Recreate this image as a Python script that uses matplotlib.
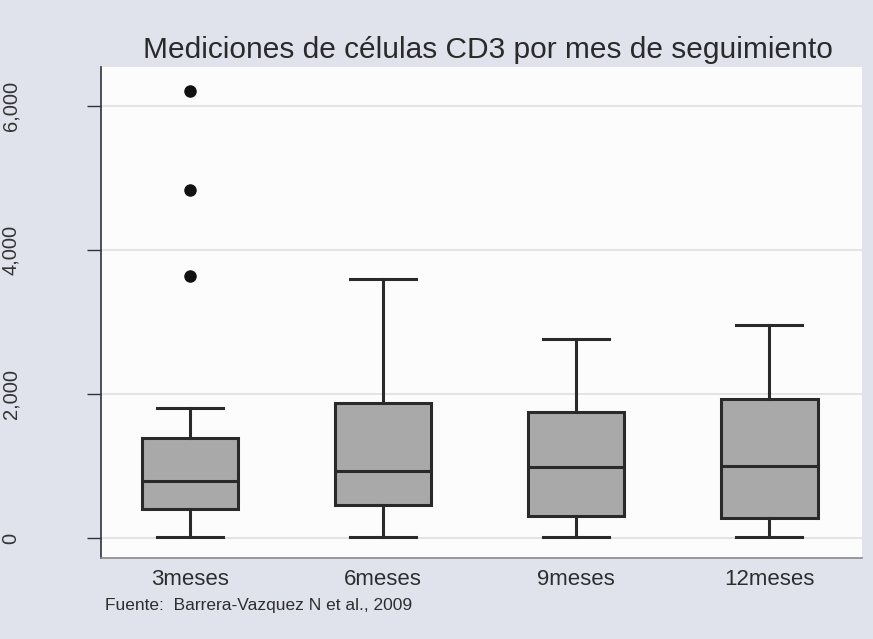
import matplotlib
matplotlib.use("Agg")
import matplotlib.pyplot as plt
from matplotlib.ticker import FuncFormatter

# CD3 cell counts summarised per follow-up month
categories = ["3meses", "6meses", "9meses", "12meses"]
whisker_low = [10, 15, 18, 20]
q1 = [400, 455, 305, 280]
median = [790, 930, 985, 1000]
q3 = [1390, 1875, 1750, 1930]
whisker_high = [1805, 3600, 2765, 2960]
outliers = [[6210, 4830, 3640], [], [], []]

yticks = [0, 2000, 4000, 6000]

plt.rcParams["font.family"] = ["Liberation Sans", "DejaVu Sans"]

fig = plt.figure(figsize=(8.73, 6.39), dpi=100)
fig.patch.set_facecolor("#e0e3ec")
ax = fig.add_axes([0.1157, 0.1268, 0.8717, 0.7683])
ax.set_facecolor("#fcfcfc")

stats = []
for i, name in enumerate(categories):
    stats.append(dict(label=name, whislo=whisker_low[i], q1=q1[i], med=median[i],
                      q3=q3[i], whishi=whisker_high[i], fliers=outliers[i]))

edge = "#2a2a2a"
ax.bxp(stats, positions=range(1, len(categories) + 1), widths=0.5,
       patch_artist=True, showfliers=True,
       boxprops=dict(facecolor="#a9a9a9", edgecolor=edge, linewidth=2.2),
       medianprops=dict(color=edge, linewidth=2.2),
       whiskerprops=dict(color=edge, linewidth=2.2),
       capprops=dict(color=edge, linewidth=2.2),
       capwidths=0.34,
       flierprops=dict(marker="o", markerfacecolor="#111111",
                       markeredgecolor="#111111", markersize=8))

ax.set_xlim(0.54, 4.48)
ax.set_ylim(-278, 6540)
ax.set_yticks(yticks)
ax.yaxis.set_major_formatter(FuncFormatter(lambda v, p: f"{int(v):,}"))
ax.yaxis.grid(True, color="#dedede", linewidth=1.2)
ax.set_axisbelow(True)

for lbl in ax.get_yticklabels():
    lbl.set_rotation(90)
    lbl.set_va("center")
ax.tick_params(axis="y", length=10, width=1, color="#333333", pad=48,
               labelsize=14.5, labelcolor="#333333")
ax.tick_params(axis="x", length=0, pad=8, labelsize=16, labelcolor="#2e2e2e")

ax.spines["top"].set_visible(False)
ax.spines["right"].set_visible(False)
ax.spines["left"].set_color("#333333")
ax.spines["left"].set_linewidth(1.2)
ax.spines["bottom"].set_color("#888888")
ax.spines["bottom"].set_linewidth(1.2)

fig.text(0.559, 0.910, "Mediciones de células CD3 por mes de seguimiento",
         ha="center", va="baseline", fontsize=21.5, color="#2a2a2a")
fig.text(0.12, 0.053, "Fuente:  Barrera-Vazquez N et al., 2009",
         ha="left", va="center", fontsize=12.5, color="#2e2e2e")

fig.savefig("out.png", dpi=100, facecolor=fig.get_facecolor())
